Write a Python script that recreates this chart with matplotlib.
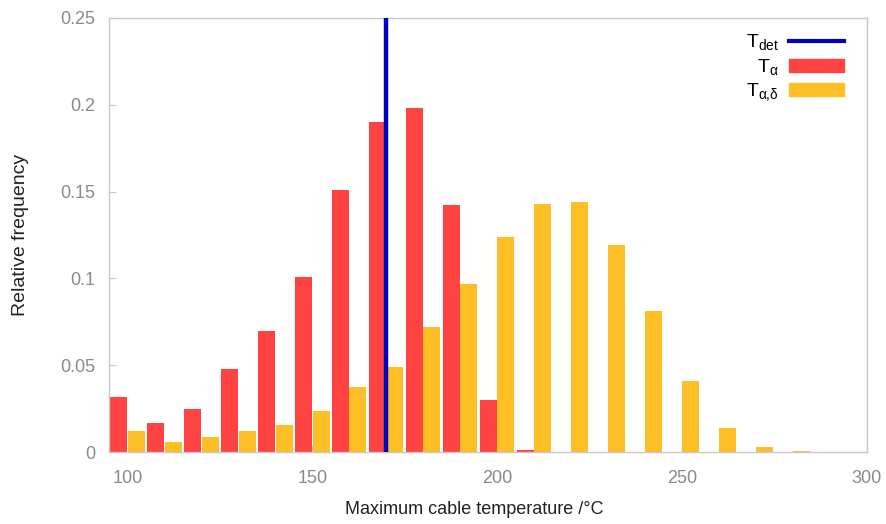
import numpy as np
import matplotlib
matplotlib.use("Agg")
import matplotlib.pyplot as plt
from matplotlib.patches import Patch
from matplotlib.lines import Line2D

plt.rcParams['font.family'] = ['Liberation Sans', 'DejaVu Sans']

# Bin centres (deg C)
bins = np.arange(100, 290, 10)

# Relative frequency of T_alpha (red) and T_alpha,delta (yellow)
t_alpha = [0.032, 0.017, 0.025, 0.048, 0.070, 0.101, 0.151, 0.190, 0.198,
           0.142, 0.030, 0.001, 0, 0, 0, 0, 0, 0, 0]
t_alpha_delta = [0.012, 0.006, 0.009, 0.012, 0.0155, 0.024, 0.0375, 0.049,
                 0.072, 0.097, 0.124, 0.143, 0.144, 0.119, 0.081, 0.041,
                 0.014, 0.003, 0.0007]

# Detection temperature
t_det = 170

red = '#ff4242'
yellow = '#fdbf25'
blue = '#0000bf'
grey = '#8a8a8a'

fig = plt.figure(figsize=(8.87, 5.24), dpi=100)
ax = fig.add_axes([0.123, 0.137, 0.854, 0.829])

w = 4.6
ax.bar(bins - w / 2 - 0.05, t_alpha, width=w, color=red, zorder=2)
ax.bar(bins + w / 2 + 0.05, t_alpha_delta, width=w, color=yellow, zorder=2)
ax.axvline(t_det, color=blue, lw=3.2, zorder=3)

ax.set_xlim(95, 300)
ax.set_ylim(0, 0.25)
ax.set_xticks([100, 150, 200, 250, 300])
ax.set_yticks([0, 0.05, 0.1, 0.15, 0.2, 0.25])
ax.set_yticklabels(['0', '0.05', '0.1', '0.15', '0.2', '0.25'])

for s in ax.spines.values():
    s.set_color('#c8c8c8')
    s.set_linewidth(1)
ax.tick_params(direction='in', colors='#c8c8c8', labelcolor=grey,
               labelsize=13, length=5, pad=10)
ax.tick_params(axis='x', pad=13)

ax.set_xlabel('Maximum cable temperature /°C', fontsize=13, color='#222222')
ax.set_ylabel('Relative frequency', fontsize=14, color='#222222')
ax.xaxis.set_label_coords(0.482, -0.113)
ax.yaxis.set_label_coords(-0.106, 0.5)

handles = [Line2D([0], [0], color=blue, lw=3),
           Patch(color=red), Patch(color=yellow)]
labels = ['T$_\\mathregular{det}$', 'T$_\\mathregular{α}$',
          'T$_\\mathregular{α{,}δ}$']
ax.legend(handles, labels, loc='upper right', frameon=False, markerfirst=False,
          fontsize=14, handlelength=2.8, handleheight=0.65, labelspacing=0.2,
          handletextpad=0.55, bbox_to_anchor=(0.993, 1.005))

fig.savefig('out.png', dpi=100)
